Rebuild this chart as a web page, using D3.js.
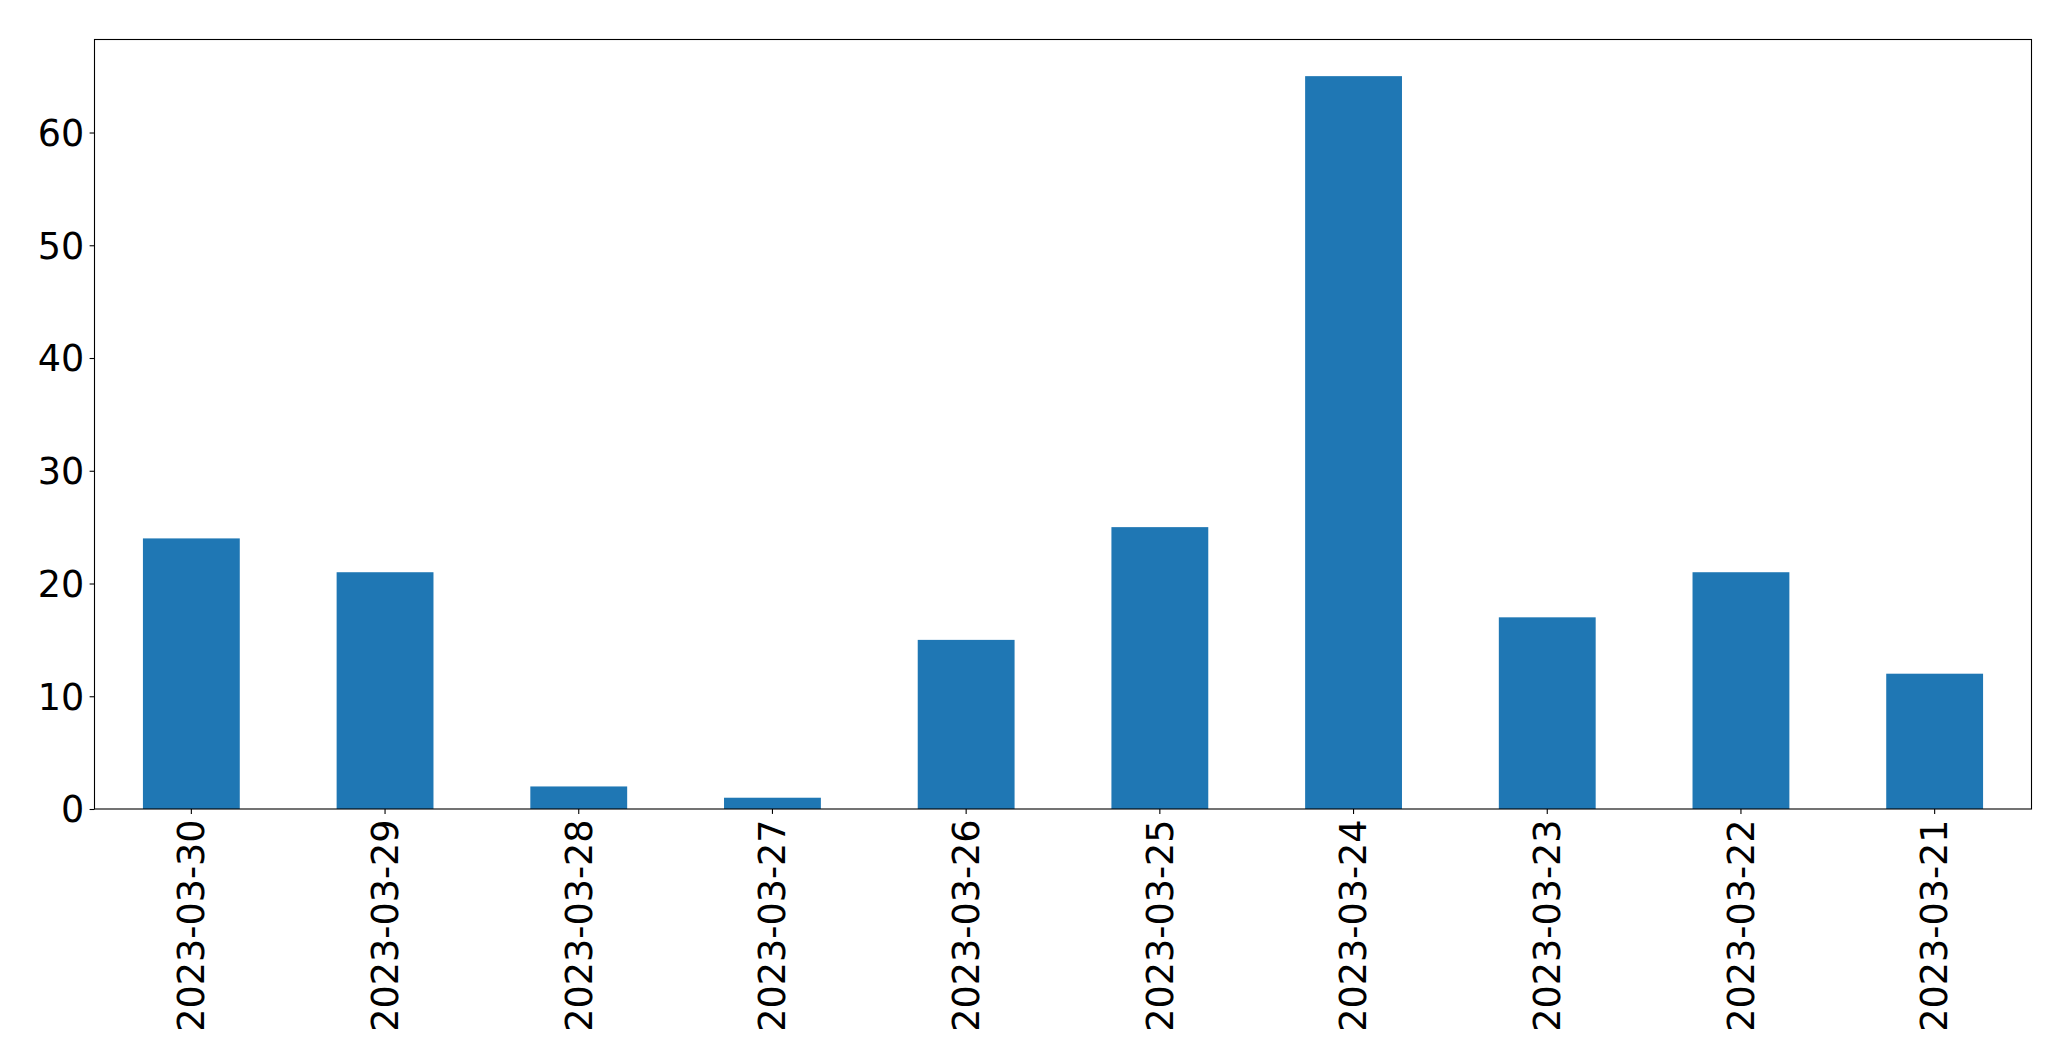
<!DOCTYPE html>
<html>
<head>
<meta charset="utf-8">
<script src="https://cdn.jsdelivr.net/npm/d3@7"></script>
<style>
  html, body { margin: 0; padding: 0; background: #fff; }
  svg { display: block; }
  text { font-family: "DejaVu Sans", sans-serif; fill: #000; }
</style>
</head>
<body>
<script>
const categories = ["2023-03-30","2023-03-29","2023-03-28","2023-03-27","2023-03-26","2023-03-25","2023-03-24","2023-03-23","2023-03-22","2023-03-21"];
const values = [24, 21, 2, 1, 15, 25, 65, 17, 21, 12];
const yTicks = [0, 10, 20, 30, 40, 50, 60];

const W = 2071, H = 1061;
const margin = { left: 94.5, top: 39.5, right: W - 2031.5, bottom: H - 809 };
const iw = W - margin.left - margin.right;
const ih = H - margin.top - margin.bottom;

const svg = d3.select("body").append("svg").attr("width", W).attr("height", H);
const g = svg.append("g").attr("transform", `translate(${margin.left},${margin.top})`);

const x = d3.scaleBand().domain(categories).range([0, iw]).paddingInner(0.5).paddingOuter(0.25);
const yMax = d3.max(values) * 1.05;
const y = d3.scaleLinear().domain([0, yMax]).range([ih, 0]);

g.selectAll("rect.bar").data(values).enter().append("rect")
  .attr("class", "bar")
  .attr("x", (d, i) => x(categories[i]))
  .attr("y", d => y(d))
  .attr("width", x.bandwidth())
  .attr("height", d => ih - y(d))
  .attr("fill", "#1f77b4");

const fs = 36.5;
const yAxis = g.append("g").call(d3.axisLeft(y).tickValues(yTicks).tickSize(4.9).tickPadding(5.5).tickFormat(d3.format("d")));
yAxis.select(".domain").remove();
yAxis.selectAll("line").attr("stroke", "#000").attr("stroke-width", 1.1);
yAxis.selectAll("text").style("font-size", fs + "px").attr("dy", "0.35em");

const xAxis = g.append("g").attr("transform", `translate(0,${ih})`)
  .call(d3.axisBottom(x).tickSize(4.9).tickPadding(4.9));
xAxis.select(".domain").remove();
xAxis.selectAll("line").attr("stroke", "#000").attr("stroke-width", 1.1);
xAxis.selectAll("text")
  .style("font-size", fs + "px")
  .attr("text-anchor", "end")
  .attr("transform", "rotate(-90)")
  .attr("x", -10.5)
  .attr("y", 0)
  .attr("dy", "0.35em");

g.append("rect").attr("x", 0).attr("y", 0).attr("width", iw).attr("height", ih)
  .attr("fill", "none").attr("stroke", "#000").attr("stroke-width", 1.1);
</script>
</body>
</html>
